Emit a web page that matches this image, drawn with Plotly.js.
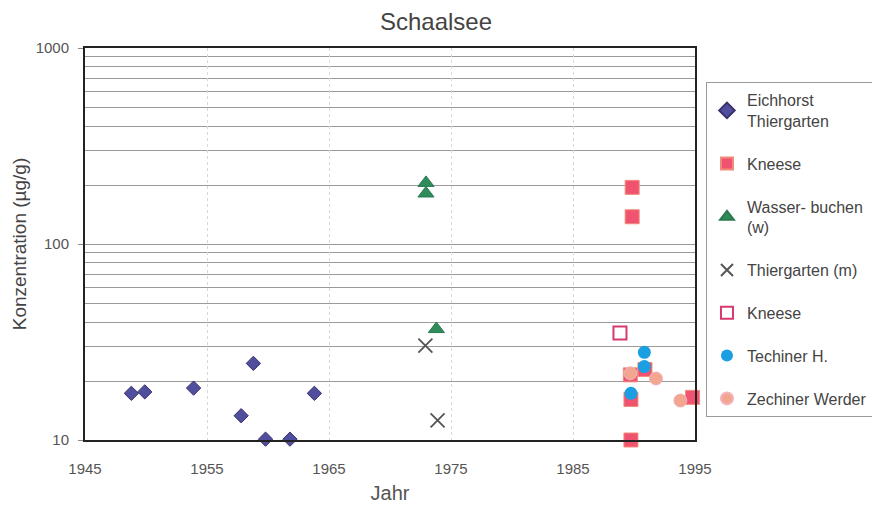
<!DOCTYPE html>
<html>
<head>
<meta charset="utf-8">
<script src="https://cdn.plot.ly/plotly-3.0.1.min.js"></script>
<style>html,body{margin:0;padding:0;background:#fff;}#chart{width:872px;height:509px;}</style>
</head>
<body>
<div id="chart"></div>
<script>
// Data
const eichX = [1948.8, 1949.9, 1953.9, 1957.8, 1958.8, 1959.8, 1961.8, 1963.8];
const eichY = [17.3, 17.6, 18.4, 13.3, 24.6, 10.1, 10.1, 17.3];

const kneeseX = [1989.85, 1989.85, 1989.7, 1990.9, 1989.75, 1989.75, 1994.8];
const kneeseY = [194.5, 137.7, 21.5, 22.9, 16.1, 10, 16.5];

const wasserX = [1972.95, 1972.95, 1973.8];
const wasserY = [205, 181, 36.8];

const thierX = [1972.9, 1973.9];
const thierY = [30.3, 12.6];

const kneese2X = [1988.85];
const kneese2Y = [35.2];

const techX = [1990.85, 1990.85, 1989.75];
const techY = [28.0, 23.7, 17.3];

const zechX = [1989.7, 1991.8, 1993.8];
const zechY = [21.9, 20.6, 15.9];

const xTicks = [1945, 1955, 1965, 1975, 1985, 1995];
const yMajor = [10, 100, 1000];
const yMinor = [20, 30, 40, 50, 60, 70, 80, 90, 200, 300, 400, 500, 600, 700, 800, 900];

const FONT = 'Arial, "Liberation Sans", sans-serif';

const traces = [
  {x: eichX, y: eichY, name: 'Eichhorst<br>Thiergarten', legendgroup: 'a',
   marker: {symbol: 'diamond', size: 11, color: '#4f4f9d', line: {color: '#3a2f6a', width: 1}}},
  {x: kneeseX, y: kneeseY, name: 'Kneese', legendgroup: 'b',
   marker: {symbol: 'square', size: 14, color: '#f0536f', line: {color: '#f28a7a', width: 1}}},
  {x: wasserX, y: wasserY, name: 'Wasser- buchen<br>(w)', legendgroup: 'c',
   marker: {symbol: 'triangle-up', size: 14, color: '#2f8c5a', line: {color: '#2a7a50', width: 1}}},
  {x: thierX, y: thierY, name: 'Thiergarten (m)', legendgroup: 'd',
   marker: {symbol: 'x-thin', size: 14, color: '#555', line: {color: '#555', width: 1.8}}},
  {x: kneese2X, y: kneese2Y, name: 'Kneese', legendgroup: 'e',
   marker: {symbol: 'square-open', size: 13, color: '#d63a6e', line: {color: '#d63a6e', width: 2}}},
  {x: techX, y: techY, name: 'Techiner H.', legendgroup: 'f',
   marker: {symbol: 'circle', size: 13, color: '#1b9fe2', line: {color: '#1b9fe2', width: 0}}},
  {x: zechX, y: zechY, name: 'Zechiner Werder', legendgroup: 'g',
   marker: {symbol: 'circle', size: 13, color: '#f2a690', line: {color: '#f1b3bd', width: 1}}}
].map(t => Object.assign({type: 'scatter', mode: 'markers', cliponaxis: false}, t));

const layout = {
  width: 872, height: 509,
  margin: {l: 85, r: 177, t: 48, b: 69, autoexpand: false},
  paper_bgcolor: '#fff', plot_bgcolor: '#fff',
  font: {family: FONT, color: '#444'},
  title: {text: 'Schaalsee', font: {size: 24, color: '#444', family: FONT},
          x: 0.5, xref: 'container', xanchor: 'center', y: 0.957, yref: 'container', yanchor: 'middle'},
  xaxis: {
    range: [1945, 1995], tickmode: 'array', tickvals: xTicks, ticktext: xTicks.map(String),
    showgrid: true, gridcolor: '#d8d8d8', griddash: 'dot', gridwidth: 1,
    showline: true, mirror: true, linecolor: '#222', linewidth: 2, zeroline: false,
    ticks: '', ticklabelstandoff: 14, tickfont: {size: 15, color: '#555'},
    title: {text: 'Jahr', font: {size: 20, color: '#555'}, standoff: 10}
  },
  yaxis: {
    type: 'log', range: [1, 3], tickmode: 'array', tickvals: yMajor, ticktext: yMajor.map(String),
    showgrid: true, gridcolor: '#9a9a9a', gridwidth: 1,
    minor: {tickmode: 'array', tickvals: yMinor, showgrid: true, gridcolor: '#9a9a9a', gridwidth: 1, ticks: ''},
    showline: true, mirror: true, linecolor: '#222', linewidth: 2, zeroline: false,
    ticks: 'outside', ticklen: 5, tickcolor: '#888', ticklabelstandoff: 6, tickfont: {size: 15, color: '#555'},
    title: {text: 'Konzentration (µg/g)', font: {size: 19, color: '#444'}, standoff: 4}
  },
  showlegend: true,
  legend: {
    x: 1.018, xanchor: 'left', y: 0.913, yanchor: 'top',
    bgcolor: '#fff', bordercolor: '#9a9a9a', borderwidth: 1,
    font: {size: 16, color: '#444', family: FONT},
    tracegroupgap: 19, itemsizing: 'constant'
  }
};

Plotly.newPlot('chart', traces, layout, {staticPlot: true, displayModeBar: false});
</script>
</body>
</html>
